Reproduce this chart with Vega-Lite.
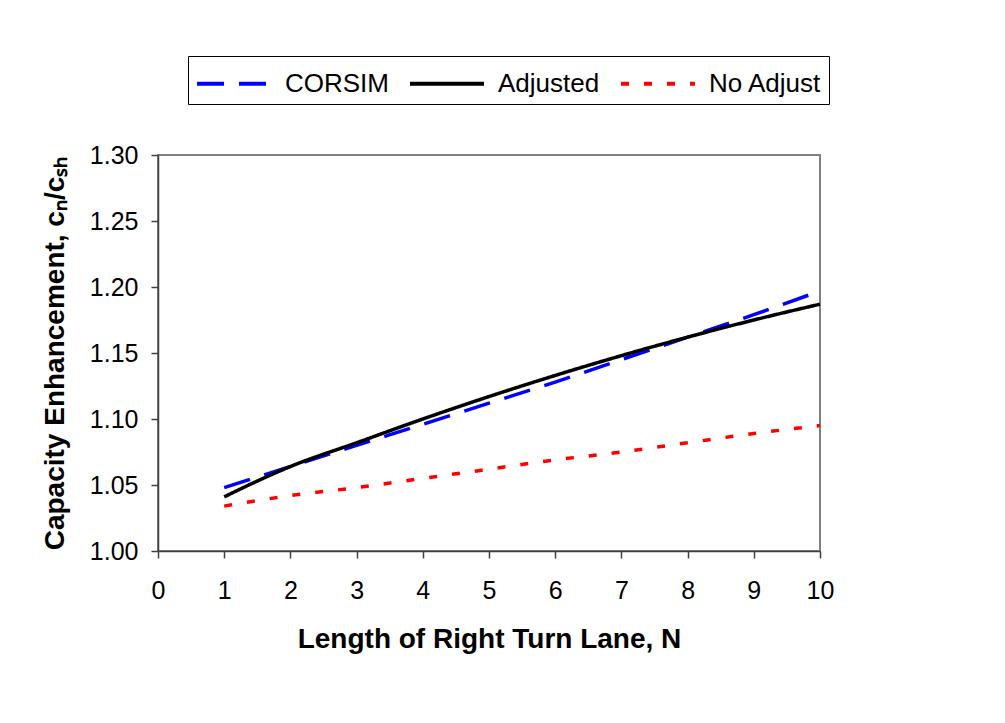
{
  "$schema": "https://vega.github.io/schema/vega-lite/v6.json",
  "width": 662,
  "height": 396,
  "autosize": "none",
  "padding": {"left": 158, "top": 155, "right": 185, "bottom": 172},
  "background": "white",
  "config": {
    "font": "Liberation Sans",
    "view": {"stroke": "#808080", "strokeWidth": 2},
    "axis": {
      "grid": false,
      "domainColor": "#404040",
      "domainWidth": 1.5,
      "tickColor": "#404040",
      "tickWidth": 1.5,
      "tickSize": 7,
      "labelFont": "Liberation Sans",
      "labelFontSize": 25,
      "labelColor": "black",
      "titleFont": "Liberation Sans",
      "titleFontSize": 28,
      "titleFontWeight": "bold",
      "titleColor": "black",
      "zindex": 1
    }
  },
  "data": {
    "values": [
      {"N": 1, "series": "CORSIM", "value": 1.048},
      {"N": 2, "series": "CORSIM", "value": 1.064},
      {"N": 3, "series": "CORSIM", "value": 1.080},
      {"N": 4, "series": "CORSIM", "value": 1.096},
      {"N": 5, "series": "CORSIM", "value": 1.112},
      {"N": 6, "series": "CORSIM", "value": 1.128},
      {"N": 7, "series": "CORSIM", "value": 1.145},
      {"N": 8, "series": "CORSIM", "value": 1.162},
      {"N": 9, "series": "CORSIM", "value": 1.179},
      {"N": 10, "series": "CORSIM", "value": 1.197},
      {"N": 1, "series": "Adjusted", "value": 1.041},
      {"N": 1.5, "series": "Adjusted", "value": 1.053},
      {"N": 2, "series": "Adjusted", "value": 1.064},
      {"N": 3, "series": "Adjusted", "value": 1.082},
      {"N": 4, "series": "Adjusted", "value": 1.100},
      {"N": 5, "series": "Adjusted", "value": 1.117},
      {"N": 6, "series": "Adjusted", "value": 1.133},
      {"N": 7, "series": "Adjusted", "value": 1.148},
      {"N": 8, "series": "Adjusted", "value": 1.162},
      {"N": 9, "series": "Adjusted", "value": 1.175},
      {"N": 10, "series": "Adjusted", "value": 1.187},
      {"N": 1, "series": "No Adjust", "value": 1.034},
      {"N": 2, "series": "No Adjust", "value": 1.042},
      {"N": 3, "series": "No Adjust", "value": 1.048},
      {"N": 4, "series": "No Adjust", "value": 1.055},
      {"N": 5, "series": "No Adjust", "value": 1.062},
      {"N": 6, "series": "No Adjust", "value": 1.069},
      {"N": 7, "series": "No Adjust", "value": 1.075},
      {"N": 8, "series": "No Adjust", "value": 1.082},
      {"N": 9, "series": "No Adjust", "value": 1.089},
      {"N": 10, "series": "No Adjust", "value": 1.095}
    ]
  },
  "mark": {"type": "line", "strokeWidth": 3.5, "interpolate": "monotone"},
  "encoding": {
    "x": {
      "field": "N",
      "type": "quantitative",
      "scale": {"domain": [0, 10], "nice": false},
      "axis": {
        "title": "Length of Right Turn Lane, N",
        "values": [0, 1, 2, 3, 4, 5, 6, 7, 8, 9, 10],
        "labelPadding": 20,
        "titlePadding": 22,
        "labelFlush": false
      }
    },
    "y": {
      "field": "value",
      "type": "quantitative",
      "scale": {"domain": [1.0, 1.3], "nice": false, "zero": false},
      "axis": {
        "title": "Capacity Enhancement, cₙ/cₛₕ",
        "values": [1.0, 1.05, 1.1, 1.15, 1.2, 1.25, 1.3],
        "format": ".2f",
        "labelPadding": 13,
        "titlePadding": 20,
        "labelFlush": false
      }
    },
    "color": {
      "field": "series",
      "type": "nominal",
      "scale": {"domain": ["CORSIM", "Adjusted", "No Adjust"], "range": ["#0000FF", "#000000", "#FF0000"]},
      "legend": {
        "title": null,
        "orient": "none",
        "legendX": 30,
        "legendY": -99,
        "direction": "horizontal",
        "symbolType": "M-1,0H3",
        "symbolSize": 1369,
        "symbolStrokeWidth": 4,
        "labelFont": "Liberation Sans",
        "labelFontSize": 26,
        "labelColor": "black",
        "labelOffset": 49,
        "labelLimit": 300,
        "columnPadding": 13,
        "padding": 7,
        "strokeColor": "black",
        "fillColor": "white"
      }
    },
    "strokeDash": {
      "field": "series",
      "type": "nominal",
      "scale": {"domain": ["CORSIM", "Adjusted", "No Adjust"], "range": [[27, 15], [1, 0], [8, 15]]},
      "legend": {
        "title": null
      }
    }
  }
}
